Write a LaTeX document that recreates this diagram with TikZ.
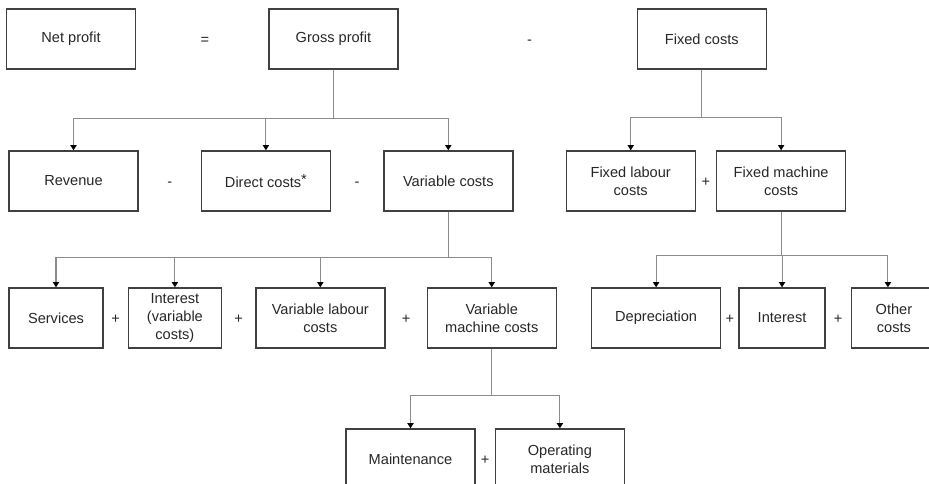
\documentclass[tikz,border=0pt]{standalone}
\usepackage{fontspec}
\setmainfont{Liberation Sans}
\usetikzlibrary{positioning,calc,arrows.meta}

\begin{document}
\begin{tikzpicture}[
		font=\fontsize{8.3}{10.2}\selectfont,
		costbox/.style={draw=black!75,line width=0.8pt,text=black!85,minimum width=2.58cm,minimum height=1.2cm,align=center,inner sep=1pt},
		sign/.style={text=black!85,text height=1.5ex,text depth=.25ex,inner sep=0pt},
		link/.style={draw=black!45,line width=0.6pt,-{Triangle[color=black,length=3pt,width=3.6pt]}}
		]
		\clip (0,0) rectangle (18.58,-9.68);
		% top row
		\node[costbox] (netprofit) at (1.42,-0.78) {Net profit};
		\node[costbox,right=2.64cm of netprofit] (grossprofit) {Gross profit};
		\node[costbox,right=4.76cm of grossprofit] (fixedcosts) {Fixed costs};
		% second row
		\node[costbox] (revenue) at (1.47,-3.62) {Revenue};
		\node[costbox,right=1.24cm of revenue] (directcosts) {Direct costs\raisebox{.3ex}{*}};
		\node[costbox,right=1.04cm of directcosts] (varcosts) {Variable costs};
		\node[costbox,right=1.04cm of varcosts] (fixedlabour) {Fixed labour\\costs};
		\node[costbox,right=0.40cm of fixedlabour] (fixedmachine) {Fixed machine\\costs};
		% third row
		\node[costbox,minimum width=1.88cm] (services) at (1.12,-6.36) {Services};
		\node[costbox,minimum width=1.86cm,right=0.48cm of services] (interestvar) {Interest\\(variable\\costs)};
		\node[costbox,right=0.66cm of interestvar] (varlabour) {Variable labour\\costs};
		\node[costbox,right=0.82cm of varlabour] (varmachine) {Variable\\machine costs};
		\node[costbox,right=0.68cm of varmachine] (depreciation) {Depreciation};
		\node[costbox,minimum width=1.72cm,right=0.34cm of depreciation] (interest) {Interest};
		\node[costbox,minimum width=1.70cm,right=0.50cm of interest] (othercosts) {Other\\costs};
		% bottom row
		\node[costbox] (maintenance) at (8.21,-9.18) {Maintenance};
		\node[costbox,right=0.38cm of maintenance] (operating) {Operating\\materials};
		% signs
		\node[sign] at ($(netprofit.east)!.52!(grossprofit.west)$) {=};
		\node[sign] at ($(grossprofit.east)!.55!(fixedcosts.west)$) {-};
		\node[sign] at ($(revenue.east)!.5!(directcosts.west)$) {-};
		\node[sign] at ($(directcosts.east)!.5!(varcosts.west)$) {-};
		\node[sign] at ($(fixedlabour.east)!.5!(fixedmachine.west)$) {+};
		\node[sign] at ($(services.east)!.5!(interestvar.west)$) {+};
		\node[sign] at ($(interestvar.east)!.5!(varlabour.west)$) {+};
		\node[sign] at ($(varlabour.east)!.5!(varmachine.west)$) {+};
		\node[sign] at ($(depreciation.east)!.5!(interest.west)$) {+};
		\node[sign] at ($(interest.east)!.5!(othercosts.west)$) {+};
		\node[sign] at ($(maintenance.east)!.5!(operating.west)$) {+};
		% connectors
		\foreach \c in {revenue,directcosts,varcosts}
			\draw[link] (grossprofit.south) -- ++(0,-0.98) -| (\c.north);
		\foreach \c in {fixedlabour,fixedmachine}
			\draw[link] (fixedcosts.south) -- ++(0,-0.96) -| (\c.north);
		\foreach \c in {services,interestvar,varlabour,varmachine}
			\draw[link] (varcosts.south) -- ++(0,-0.92) -| (\c.north);
		\foreach \c in {depreciation,interest}
			\draw[link] (fixedmachine.south) -- ++(0,-0.88) -| (\c.north);
		\draw[link] (fixedmachine.south) -- ++(0,-0.88) -| ([xshift=-0.12cm]othercosts.north);
		\foreach \c in {maintenance,operating}
			\draw[link] (varmachine.south) -- ++(0,-0.94) -| (\c.north);
	\end{tikzpicture}
\end{document}
